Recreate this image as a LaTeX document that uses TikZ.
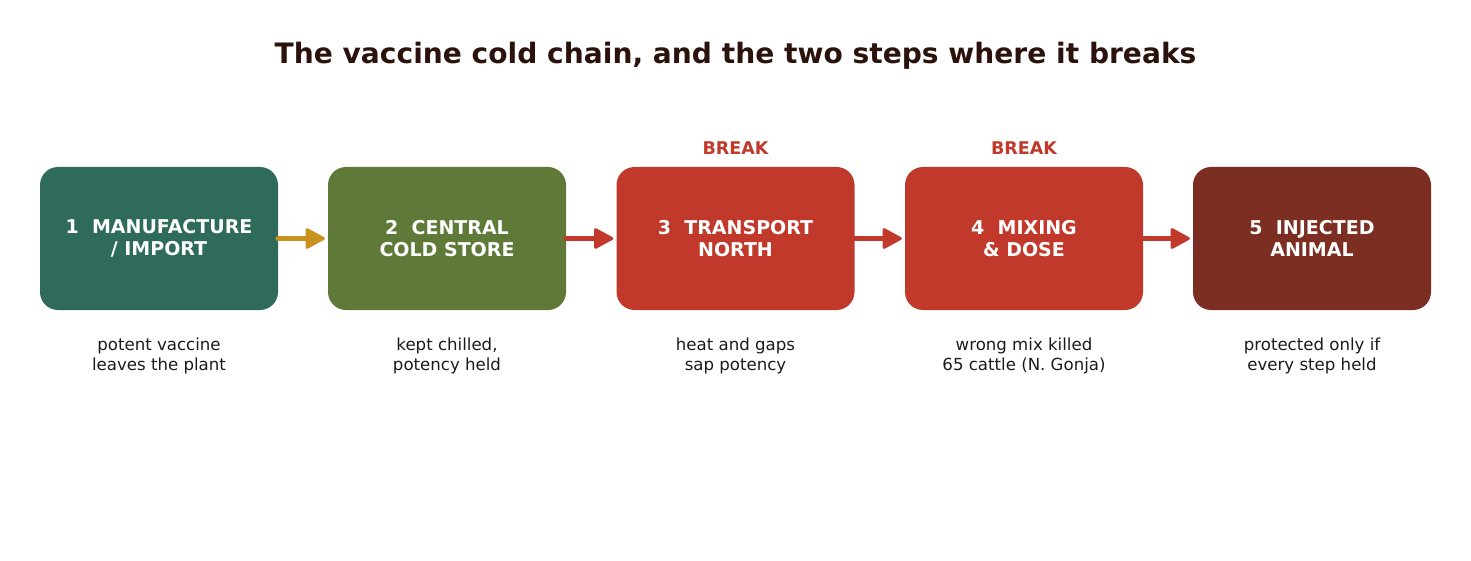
\documentclass[tikz,border=0pt]{standalone}
\usepackage{fontspec}
\setmainfont{DejaVu Sans}
\usetikzlibrary{arrows.meta}
\definecolor{cA}{HTML}{2E6B5A}
\definecolor{cB}{HTML}{5F7A38}
\definecolor{cC}{HTML}{C0392B}
\definecolor{cD}{HTML}{7B2E21}
\definecolor{cGold}{HTML}{C9921F}
\definecolor{cTitle}{HTML}{2B120C}
\definecolor{cCap}{HTML}{1A1A1A}
\tikzset{
  stage/.style={rounded corners=18pt, minimum width=238pt, minimum height=143pt, inner sep=0pt,
    text=white, align=center, font=\fontsize{19}{22}\selectfont\bfseries},
  caption/.style={text=cCap, align=center, font=\fontsize{16.6}{20}\selectfont},
  breaklbl/.style={text=cC, font=\fontsize{17.5}{20}\selectfont\bfseries},
  link/.style={line width=5.5pt, line cap=round, shorten >=3pt, -{Triangle[length=21pt,width=22pt,line width=3pt,round]}},
}
\begin{document}
\begin{tikzpicture}[x=1pt,y=-1pt]
\useasboundingbox (0,0) rectangle (1471,561);
\node[text=cTitle, font=\fontsize{28.1}{32}\selectfont\bfseries] (title) at (735.5,56) {The vaccine cold chain, and the two steps where it breaks};
\node[stage, fill=cA] (s1) at (159,238.5) {1\ \ MANUFACTURE\\/ IMPORT};
\node[stage, fill=cB] (s2) at (447,238.5) {2\ \ CENTRAL\\COLD STORE};
\node[stage, fill=cC] (s3) at (735.5,238.5) {3\ \ TRANSPORT\\NORTH};
\node[stage, fill=cC] (s4) at (1024,238.5) {4\ \ MIXING\\\& DOSE};
\node[stage, fill=cD] (s5) at (1312,238.5) {5\ \ INJECTED\\ANIMAL};
\node[breaklbl] (b3) at (735.5,148) {BREAK};
\node[breaklbl] (b4) at (1024,148) {BREAK};
\node[caption] (c1) at (159,356) {potent vaccine\\leaves the plant};
\node[caption] (c2) at (447,356) {kept chilled,\\potency held};
\node[caption] (c3) at (735.5,356) {heat and gaps\\sap potency};
\node[caption] (c4) at (1024,356) {wrong mix killed\\65 cattle (N. Gonja)};
\node[caption] (c5) at (1312,356) {protected only if\\every step held};
\draw[link, draw=cGold, fill=cGold] (s1.east) -- (s2.west);
\draw[link, draw=cC, fill=cC] (s2.east) -- (s3.west);
\draw[link, draw=cC, fill=cC] (s3.east) -- (s4.west);
\draw[link, draw=cC, fill=cC] (s4.east) -- (s5.west);
\end{tikzpicture}
\end{document}
